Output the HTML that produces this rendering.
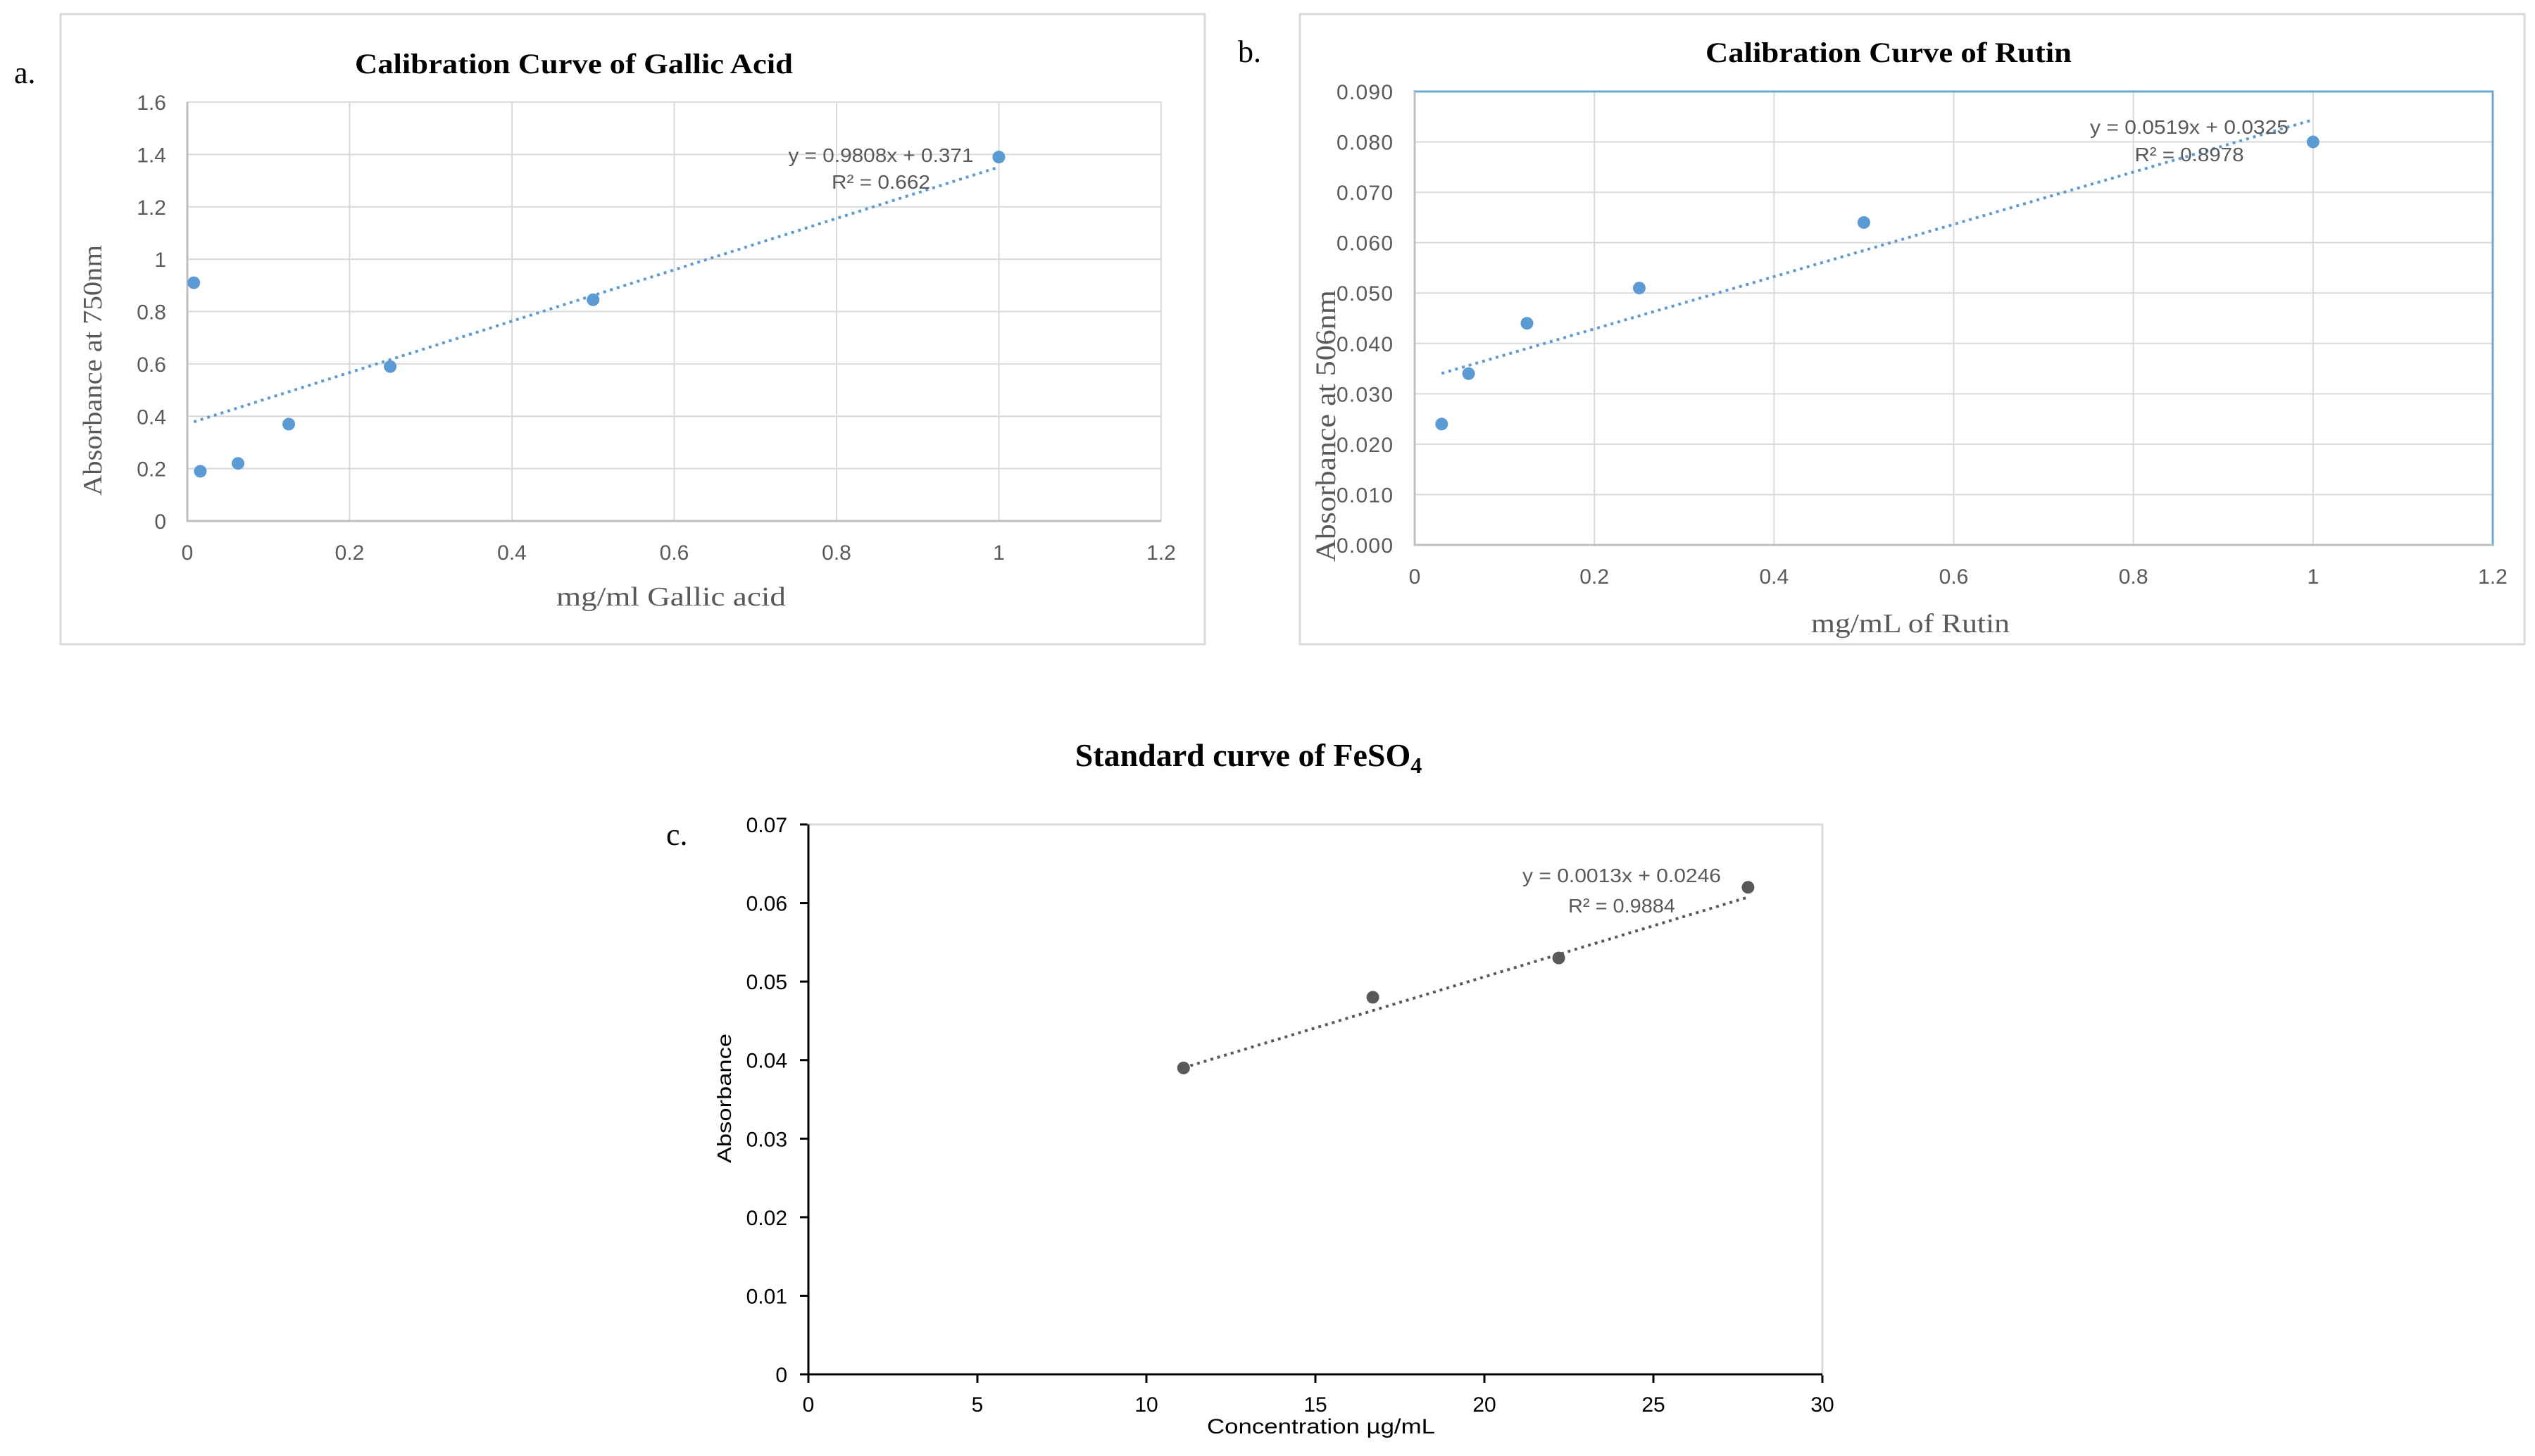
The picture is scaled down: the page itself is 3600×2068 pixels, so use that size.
<!DOCTYPE html>
<html><head><meta charset="utf-8"><style>
html,body{margin:0;padding:0;background:#fff}
svg{display:block}
</style></head><body>
<svg id="s" width="3600" height="2068" viewBox="0 0 3600 2068" xmlns="http://www.w3.org/2000/svg">
<rect x="86" y="20" width="1625" height="895" fill="#fff" stroke="#d9d9d9" stroke-width="3"/>
<rect x="1846" y="20" width="1739" height="895" fill="#fff" stroke="#d9d9d9" stroke-width="3"/>
<text x="20" y="118" font-family="Liberation Serif, serif" font-size="44">a.</text>
<text x="1758" y="88" font-family="Liberation Serif, serif" font-size="44">b.</text>
<text x="946" y="1200" font-family="Liberation Serif, serif" font-size="44">c.</text>
<text x="815" y="104" text-anchor="middle" font-family="Liberation Serif, serif" font-weight="bold" font-size="40" textLength="622" lengthAdjust="spacingAndGlyphs">Calibration  Curve  of Gallic Acid</text>
<text x="2682" y="88" text-anchor="middle" font-family="Liberation Serif, serif" font-weight="bold" font-size="40" textLength="520" lengthAdjust="spacingAndGlyphs">Calibration  Curve  of Rutin</text>
<text x="1773" y="1088" text-anchor="middle" font-family="Liberation Serif, serif" font-weight="bold" font-size="46">Standard curve of FeSO<tspan font-size="32" dy="10">4</tspan></text>
<text x="953" y="860" text-anchor="middle" font-family="Liberation Serif, serif" font-size="38" fill="#595959" textLength="326" lengthAdjust="spacingAndGlyphs">mg/ml  Gallic  acid</text>
<text transform="translate(144,526) rotate(-90)" text-anchor="middle" font-family="Liberation Serif, serif" font-size="38" fill="#595959" textLength="356" lengthAdjust="spacingAndGlyphs">Absorbance at 750nm</text>
<text x="2713" y="898" text-anchor="middle" font-family="Liberation Serif, serif" font-size="38" fill="#595959" textLength="282" lengthAdjust="spacingAndGlyphs">mg/mL  of Rutin</text>
<text transform="translate(1896,605) rotate(-90)" text-anchor="middle" font-family="Liberation Serif, serif" font-size="40" fill="#595959" textLength="386" lengthAdjust="spacingAndGlyphs">Absorbance  at  506nm</text>
<text x="1876" y="2036" text-anchor="middle" font-family="Liberation Sans, sans-serif" font-size="30" fill="#000" textLength="324" lengthAdjust="spacingAndGlyphs">Concentration µg/mL</text>
<text transform="translate(1038,1560) rotate(-90)" text-anchor="middle" font-family="Liberation Sans, sans-serif" font-size="28" fill="#000" textLength="184" lengthAdjust="spacingAndGlyphs">Absorbance</text>
<g id="ga"></g><g id="gb"></g><g id="gc"></g>
</svg>
<script>
// Chart A data
const aX=[0.008,0.016,0.0625,0.125,0.25,0.5,1];
const aY=[0.91,0.19,0.22,0.37,0.59,0.845,1.39];
const aXTicks=["0","0.2","0.4","0.6","0.8","1","1.2"];
const aYTicks=["0","0.2","0.4","0.6","0.8","1","1.2","1.4","1.6"];
const aFit=[0.9808,0.371];
const aEq=["y = 0.9808x + 0.371","R² = 0.662"];
// Chart B data
const bX=[0.03,0.06,0.125,0.25,0.5,1];
const bY=[0.024,0.034,0.044,0.051,0.064,0.080];
const bXTicks=["0","0.2","0.4","0.6","0.8","1","1.2"];
const bYTicks=["0.000","0.010","0.020","0.030","0.040","0.050","0.060","0.070","0.080","0.090"];
const bFit=[0.0519,0.0325];
const bEq=["y = 0.0519x + 0.0325","R² = 0.8978"];
// Chart C data
const cX=[11.1,16.7,22.2,27.8];
const cY=[0.039,0.048,0.053,0.062];
const cXTicks=["0","5","10","15","20","25","30"];
const cYTicks=["0","0.01","0.02","0.03","0.04","0.05","0.06","0.07"];
const cFit=[0.0013,0.0246];
const cEq=["y = 0.0013x + 0.0246","R² = 0.9884"];

const NS="http://www.w3.org/2000/svg";
function mk(p,t,at){const e=document.createElementNS(NS,t);for(const k in at)e.setAttribute(k,at[k]);p.appendChild(e);return e;}
function chart(g,o){
  const xmax=parseFloat(o.xt[o.xt.length-1]), ymax=parseFloat(o.yt[o.yt.length-1]);
  const sx=v=>o.L+(o.R-o.L)*v/xmax, sy=v=>o.B-(o.B-o.T)*v/ymax;
  o.xt.forEach((t,i)=>{const v=parseFloat(t);const x=sx(v);
    if(o.grid){const l=mk(g,'line',{x1:x,x2:x,y1:o.T,y2:o.B,stroke:'#d9d9d9','stroke-width':2});
      
      }
    if(o.ticks){const l=mk(g,'line',{x1:x,x2:x,y1:o.B,y2:o.B+12,stroke:'#000','stroke-width':3});
      
      }
    const tx=mk(g,'text',{x:x,y:o.xly,'text-anchor':'middle','font-family':'Liberation Sans, sans-serif','font-size':30,fill:o.tc});
    tx.textContent=t;
    
    });
  o.yt.forEach(t=>{const v=parseFloat(t);const y=sy(v);
    if(o.grid){const l=mk(g,'line',{x1:o.L,x2:o.R,y1:y,y2:y,stroke:'#d9d9d9','stroke-width':2});
      
      }
    if(o.ticks){const l=mk(g,'line',{x1:o.L-12,x2:o.L,y1:y,y2:y,stroke:'#000','stroke-width':3});
      
      }
    const tx=mk(g,'text',{x:o.ylx,y:y+11,'text-anchor':'end','font-family':'Liberation Sans, sans-serif','font-size':30,fill:o.tc});
    tx.textContent=t;
    if(o.narrow) tx.setAttribute('textLength',o.narrow);
    
    });
  if(o.border){const r=mk(g,'rect',{x:o.L,y:o.T,width:o.R-o.L,height:o.B-o.T,fill:'none',stroke:o.border,'stroke-width':3});
    
    }
  if(o.axes){const a=mk(g,'path',{d:`M${o.L} ${o.T}V${o.B}H${o.R}`,fill:'none',stroke:'#000','stroke-width':3});
    
    }
  else{const a=mk(g,'path',{d:`M${o.L} ${o.T}V${o.B}H${o.R}`,fill:'none',stroke:'#bfbfbf','stroke-width':3});
    
    }
  const x0=Math.min(...o.x), x1=Math.max(...o.x);
  const tl=mk(g,'line',{x1:sx(x0),y1:sy(o.fit[0]*x0+o.fit[1]),x2:sx(x1),y2:sy(o.fit[0]*x1+o.fit[1]),stroke:o.lc,'stroke-width':4,'stroke-dasharray':'4 6'});
  
  
  o.x.forEach((v,i)=>{const c=mk(g,'circle',{cx:sx(v),cy:sy(o.y[i]),r:9,fill:o.pc});
    
    });
  o.eq.forEach((t,i)=>{const tx=mk(g,'text',{x:o.ex,y:o.ey[i],'text-anchor':'middle','font-family':'Liberation Sans, sans-serif','font-size':28,fill:'#595959',textLength:o.el[i],lengthAdjust:'spacingAndGlyphs'});
    tx.textContent=t;
    
    });
}
chart(document.getElementById('ga'),{L:266,R:1649,T:145,B:740,xt:aXTicks,yt:aYTicks,x:aX,y:aY,fit:aFit,eq:aEq,grid:true,tc:'#595959',xly:795,ylx:236,pc:'#5b9bd5',lc:'#5b9bd5',ex:1251,ey:[230,268],el:[263,140]});
chart(document.getElementById('gb'),{L:2009,R:3540,T:130,B:774,xt:bXTicks,yt:bYTicks,x:bX,y:bY,fit:bFit,eq:bEq,grid:true,tc:'#595959',xly:829,ylx:1978,narrow:80,border:'#6aa8cf',pc:'#5b9bd5',lc:'#5b9bd5',ex:3109,ey:[190,229],el:[282,155]});
chart(document.getElementById('gc'),{L:1148,R:2588,T:1171,B:1952,xt:cXTicks,yt:cYTicks,x:cX,y:cY,fit:cFit,eq:cEq,grid:false,ticks:true,axes:true,tc:'#000',xly:2005,ylx:1118,border:'#d9d9d9',pc:'#595959',lc:'#595959',ex:2303,ey:[1253,1296],el:[282,152]});
</script>
</body></html>
